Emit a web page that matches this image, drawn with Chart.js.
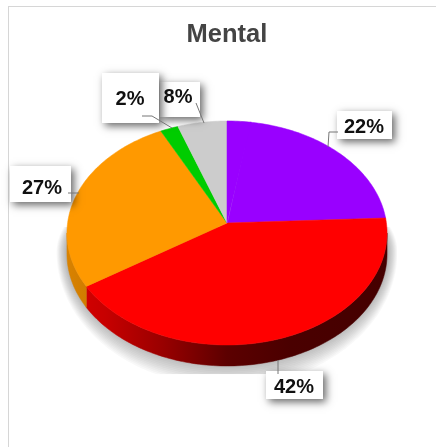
<!DOCTYPE html>
<html>
<head>
<meta charset="utf-8">
<script src="https://cdn.jsdelivr.net/npm/chart.js@4"></script>
<style>
html,body{margin:0;padding:0;background:#fff;overflow:hidden}
#wrap{position:relative;width:436px;height:447px;overflow:hidden}
#frame{position:absolute;left:8px;top:6px;width:440px;height:460px;border:1.5px solid #d6d6d6;box-sizing:border-box}
canvas{position:absolute;left:0;top:0;filter:blur(0.35px)}
</style>
</head>
<body>
<div id="wrap"><div id="frame"></div><canvas id="c" width="436" height="447"></canvas></div>
<script>
const chartTitle = 'Mental';
const categories = ['A', 'B', 'C', 'D', 'E'];
const percentValues = [22, 42, 27, 2, 8];
const sliceColors = ['#9900FF', '#FF0000', '#FF9900', '#00CC00', '#CCCCCC'];

// Presentation: perspective of the tilted disc and the callout boxes.
const SQUASH = 0.697, PERSP = 0.0893, DEPTH = 21, ROTATION = 9;
const callouts = [
  {i: 0, box: [337, 111, 55, 28], text: [364, 126], line: [[338,132],[329,132],[328,147]]},
  {i: 1, box: [266, 371, 57, 28], text: [294, 386], line: [[278,360],[278,374]]},
  {i: 2, box: [10, 166, 61, 36], text: [42, 187], line: [[68,193],[79,193]]},
  {i: 4, box: [160, 82, 40, 35], text: [178, 96], line: [[196,103],[204,123]]},
  {i: 3, box: [102, 73, 57, 50], text: [130, 98], line: [[142,116],[152,116],[172,128]]}
];

function projector(el) {
  const R = el.outerRadius, b = R * SQUASH;
  return a => {
    const u = Math.cos(a), v = Math.sin(a), d = 1 - PERSP * v;
    return [el.x + R * u / d, el.y + b * v / d];
  };
}
function rimPoints(p, a0, a1) {
  const n = Math.max(2, Math.ceil(Math.abs(a1 - a0) / 0.02)), pts = [];
  for (let i = 0; i <= n; i++) pts.push(p(a0 + (a1 - a0) * i / n));
  return pts;
}
function shade(hex, f) {
  const n = parseInt(hex.slice(1), 16);
  return `rgb(${Math.round((n >> 16 & 255) * f)},${Math.round((n >> 8 & 255) * f)},${Math.round((n & 255) * f)})`;
}
function trace(ctx, pts) {
  ctx.beginPath();
  pts.forEach((q, i) => i ? ctx.lineTo(q[0], q[1]) : ctx.moveTo(q[0], q[1]));
  ctx.closePath();
}

const tiltedPie = {
  id: 'tiltedPie',
  beforeDatasetDraw(chart) {
    const ctx = chart.ctx, arcs = chart.getDatasetMeta(0).data;
    const el = arcs[0], p = projector(el);
    const full = rimPoints(p, 0, Math.PI * 2);
    const xs = full.map(q => q[0]), left = Math.min(...xs), right = Math.max(...xs);
    const midX = (left + right) / 2, rimMidY = el.y + 10, shadowMidY = rimMidY + 19;

    // soft ground shadow built from stacked translucent rims, cut off by a rectangle
    ctx.save();
    ctx.beginPath();
    ctx.rect(left - 11, el.y + 4, right - left + 21, el.outerRadius * SQUASH * 1.1 + DEPTH + 4);
    ctx.clip();
    const layers = 14;
    ctx.fillStyle = 'rgba(0,0,0,0.027)';
    for (let k = 0; k < layers; k++) {
      const t = 1 - k / layers;
      const growX = 1.0 + 0.065 * t, growY = 0.97 + 0.23 * t;
      trace(ctx, full.map(q => {
        const dy = q[1] - rimMidY;
        return [midX + (q[0] - midX) * growX, shadowMidY + (dy < 0 ? dy * 0.72 * growX : dy * growY)];
      }));
      ctx.fill();
    }
    ctx.restore();

    // side wall, only the part of the rim turned to the viewer
    const frontStart = Math.asin(PERSP), frontEnd = Math.PI - frontStart;
    arcs.forEach((arc, i) => {
      const a0 = Math.max(arc.startAngle, frontStart), a1 = Math.min(arc.endAngle, frontEnd);
      if (a1 <= a0) return;
      const upper = rimPoints(p, a0, a1);
      const lower = upper.map(q => [q[0], q[1] + DEPTH]).reverse();
      const g = ctx.createLinearGradient(left, 0, right, 0);
      g.addColorStop(0, shade(sliceColors[i], 0.85));
      g.addColorStop(0.12, shade(sliceColors[i], 0.78));
      g.addColorStop(0.3, shade(sliceColors[i], 0.6));
      g.addColorStop(0.5, shade(sliceColors[i], 0.36));
      g.addColorStop(0.7, shade(sliceColors[i], 0.29));
      g.addColorStop(1, shade(sliceColors[i], 0.27));
      ctx.fillStyle = g;
      ctx.strokeStyle = g;
      ctx.lineWidth = 0.5;
      trace(ctx, upper.concat(lower));
      ctx.fill();
      ctx.stroke();
    });

    // top face
    arcs.forEach((arc, i) => {
      trace(ctx, [[arc.x, arc.y]].concat(rimPoints(p, arc.startAngle, arc.endAngle)));
      ctx.fillStyle = ctx.strokeStyle = sliceColors[i];
      ctx.lineWidth = 0.5;
      ctx.fill();
      ctx.stroke();
    });
    // in the reference the first slice's colour runs back to 12 o'clock over the last slice
    const first = arcs[0];
    trace(ctx, [[first.x, first.y]].concat(rimPoints(p, -Math.PI / 2, first.startAngle + 0.01)));
    ctx.fillStyle = ctx.strokeStyle = sliceColors[0];
    ctx.fill();
    ctx.stroke();
    return false;
  },
  afterDraw(chart) {
    const ctx = chart.ctx;
    callouts.forEach(c => {
      ctx.save();
      ctx.shadowColor = 'rgba(0,0,0,0.6)';
      ctx.shadowBlur = 8;
      ctx.shadowOffsetX = 3;
      ctx.shadowOffsetY = 3;
      ctx.fillStyle = '#fff';
      ctx.fillRect(c.box[0], c.box[1], c.box[2], c.box[3]);
      ctx.restore();
      ctx.fillStyle = '#111';
      ctx.font = 'bold 20px "Liberation Sans", Arial, sans-serif';
      ctx.textAlign = 'center';
      ctx.textBaseline = 'middle';
      ctx.fillText(chart.data.datasets[0].data[c.i] + '%', c.text[0], c.text[1] + 1);
    });
    callouts.forEach(c => {
      ctx.beginPath();
      c.line.forEach((q, k) => k ? ctx.lineTo(q[0], q[1]) : ctx.moveTo(q[0], q[1]));
      ctx.strokeStyle = '#777';
      ctx.lineWidth = 1;
      ctx.stroke();
    });
  }
};

new Chart(document.getElementById('c'), {
  type: 'pie',
  data: {
    labels: categories,
    datasets: [{data: percentValues, backgroundColor: sliceColors, borderWidth: 0}]
  },
  options: {
    responsive: false,
    animation: false,
    rotation: ROTATION,
    layout: {padding: {left: 67.6, right: 49.6, top: 20, bottom: 64.6}},
    plugins: {
      legend: {display: false},
      tooltip: {enabled: false},
      title: {
        display: true,
        text: chartTitle,
        color: '#444',
        font: {family: '"Liberation Sans", Arial, sans-serif', size: 25.5, weight: 'bold', lineHeight: 1.2},
        padding: {top: 0, bottom: 13}
      }
    }
  },
  plugins: [tiltedPie]
});
</script>
</body>
</html>
